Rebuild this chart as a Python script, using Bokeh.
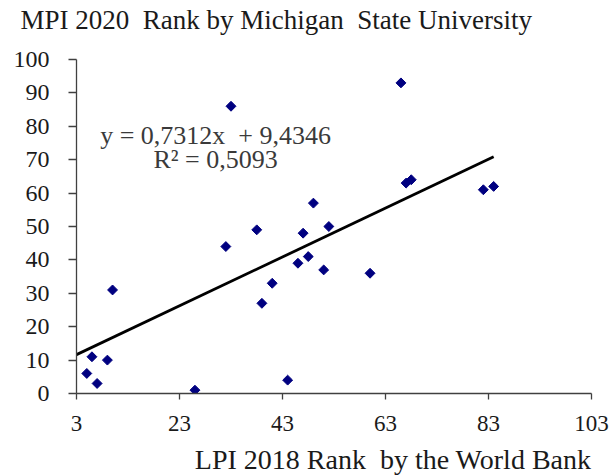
import numpy as np
from bokeh.plotting import figure
from bokeh.models import FixedTicker, Label, Title, Range1d
from bokeh.embed import file_html
from bokeh.resources import INLINE

# LPI 2018 rank (x) vs MPI 2020 rank (y)
lpi_rank = [5, 6, 7, 9, 10, 26, 33, 32, 38, 39, 41, 44, 46, 47, 48, 49, 51, 52, 60, 66, 67, 68, 82, 84]
mpi_rank = [6, 11, 3, 10, 31, 1, 86, 44, 49, 27, 33, 4, 39, 48, 41, 57, 37, 50, 36, 93, 63, 64, 61, 62]

slope = 0.7312
intercept = 9.4346
trend_x = [3, 84]
trend_y = [slope * v + intercept for v in trend_x]

x_ticks = [3, 23, 43, 63, 83, 103]
y_ticks = [0, 10, 20, 30, 40, 50, 60, 70, 80, 90, 100]

FONT = "Liberation Serif"
NB = "\u00a0"

p = figure(width=611, height=476, output_backend="svg", toolbar_location=None,
           x_range=Range1d(3, 103), y_range=Range1d(0, 100),
           min_border_left=76, min_border_right=20, min_border_top=58, min_border_bottom=83)

p.xgrid.visible = False
p.ygrid.visible = False
p.outline_line_color = None
p.background_fill_color = "white"

for ax in (p.xaxis[0], p.yaxis[0]):
    ax.axis_line_color = "#404040"
    ax.axis_line_width = 1.3
    ax.major_tick_line_color = "#404040"
    ax.major_tick_line_width = 1.3
    ax.major_tick_in = 0
    ax.minor_tick_line_color = None
    ax.major_label_text_font = FONT
    ax.major_label_text_color = "#1a1a1a"

p.xaxis[0].major_label_text_font_size = "23px"
p.yaxis[0].major_label_text_font_size = "24px"
p.xaxis[0].ticker = FixedTicker(ticks=x_ticks)
p.yaxis[0].ticker = FixedTicker(ticks=y_ticks)
p.xaxis[0].major_tick_out = 6
p.yaxis[0].major_tick_out = 8
p.xaxis[0].major_label_standoff = 16
p.yaxis[0].major_label_standoff = 19

# spacer below the x axis, then the x-axis caption
p.add_layout(Title(text=" ", text_font_size="1px", standoff=3), "below")
p.add_layout(Title(text="LPI 2018 Rank" + NB + " by the World Bank", align="right",
                   text_font=FONT, text_font_size="28px", text_font_style="normal",
                   text_color="#1a1a1a", standoff=4), "below")

# spacer between frame and chart title, then the chart title itself
p.add_layout(Title(text=" ", text_font_size="1px", standoff=20), "above")
p.add_layout(Title(text="MPI 2020" + NB + " Rank by Michigan" + NB + " State University",
                   align="left", offset=-56, standoff=4, text_font=FONT,
                   text_font_size="27px", text_font_style="normal", text_color="#1a1a1a"), "above")

p.line(trend_x, trend_y, line_color="black", line_width=2.8)
p.scatter(lpi_rank, mpi_rank, marker="square", angle=np.pi / 4, size=7,
          fill_color="#000080", line_color="#000080")

p.add_layout(Label(x=30.0, y=77.3, text="y = 0,7312x" + NB + " + 9,4346", text_align="center",
                   text_baseline="middle", text_font=FONT, text_font_size="26px",
                   text_color="#3a3a3a"))
p.add_layout(Label(x=30.0, y=70.0, text="R\u00b2 = 0,5093", text_align="center",
                   text_baseline="middle", text_font=FONT, text_font_size="26px",
                   text_color="#3a3a3a"))

open("out.html", "w").write(file_html(p, INLINE))
